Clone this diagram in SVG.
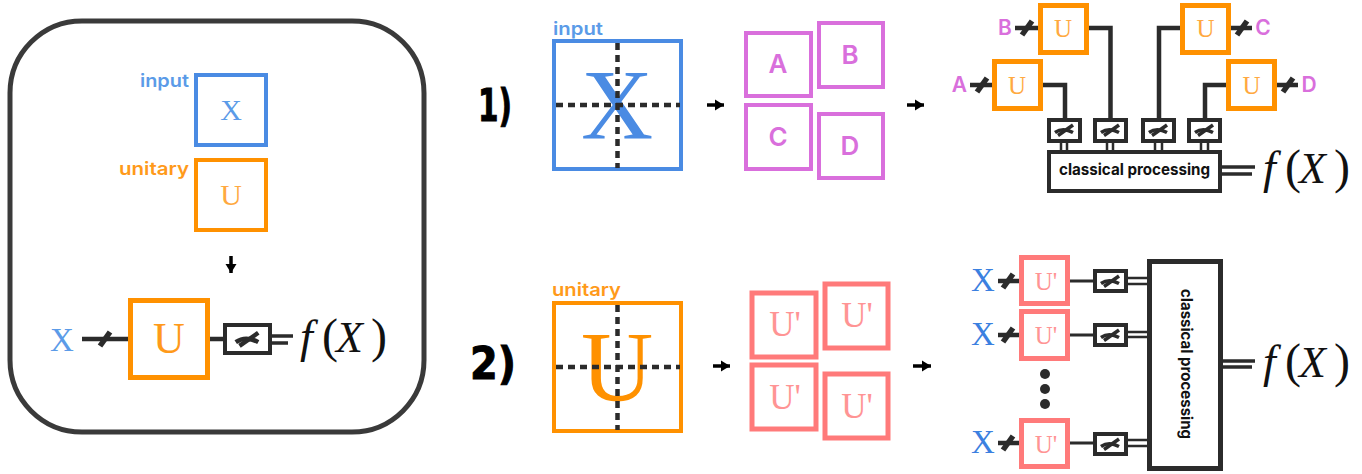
<svg xmlns="http://www.w3.org/2000/svg" width="1362" height="474" viewBox="0 0 1362 474">
<style>
text{font-family:"Liberation Serif","Times New Roman",serif}
.sans{font-family:"Inter","Noto Sans",sans-serif;font-weight:600}
.cp{font-family:"Inter","Noto Sans",sans-serif;font-weight:700;font-size:16px;fill:#111}
.num{font-family:"DejaVu Sans",sans-serif;font-weight:700;font-size:44px;fill:#000;stroke:#000;stroke-width:1}
.box{fill:#fff;stroke-width:4}
.gate{stroke-width:5}
.blue{stroke:#4a8be3}.orange{stroke:#ff9100}.pink{stroke:#d96fdc}.red{stroke:#ff7a7a}
.dark{stroke:#2b2b2b;fill:#fff}
.tb{fill:#5b9be8}.to{fill:#ff9a1a}.tl{fill:#ffa940}.tp{fill:#d96fdc}.tr{fill:#ff9494}.tx{fill:#3b80e0}
.wire{fill:none;stroke:#2b2b2b;stroke-width:4.500}
.thin{fill:none;stroke:#2b2b2b;stroke-width:3}
.dbl{fill:none;stroke:#2b2b2b;stroke-width:2.500}
.out{fill:none;stroke:#2b2b2b;stroke-width:3.500}
.dash{fill:none;stroke:#2b2b2b;stroke-width:4.500;stroke-dasharray:7 5}
.arrow{fill:none;stroke:#000;stroke-width:3.500;marker-end:url(#head)}
.fx{font-size:44px;fill:#111}
.fx .i{font-style:italic}
.fx .f{font-style:italic;font-size:46px}
.fx .p{font-size:48px}
</style>
<defs>
<marker id="head" markerUnits="userSpaceOnUse" markerWidth="12" markerHeight="14" refX="9" refY="5.500" orient="auto" overflow="visible"><path d="M0 0L9 5.500L0 11Z" fill="#000"/></marker>
<g id="meter"><path d="M-9 2.500Q-1-3 9 2.500" fill="none" stroke="#2b2b2b" stroke-width="3.500"/><path d="M-6 5.500L9-5" fill="none" stroke="#2b2b2b" stroke-width="3.500"/></g>
<path id="slash" d="M-5 7L5-7" fill="none" stroke="#2b2b2b" stroke-width="5.500"/>
</defs>

<g id="connectors">
<path class="arrow" d="M231 256V273"/>
<path class="wire" d="M82 339H130M207 339H225"/>
<path class="out" d="M270 336H293M270 343H288"/>
<use href="#slash" x="105" y="339"/>
<path class="arrow" d="M707 105H724"/>
<path class="arrow" d="M907 105H924"/>
<path class="arrow" d="M713 366H730"/>
<path class="arrow" d="M913 366H931"/>
<path class="wire" d="M1015 28H1040M970 85H994M1229 28H1252M1275 85H1298"/>
<use href="#slash" x="1027" y="28"/><use href="#slash" x="982" y="85"/><use href="#slash" x="1242" y="28"/><use href="#slash" x="1288" y="85"/>
<path class="wire" d="M1040 85H1065V120M1086 28H1110.500V120M1182 28H1159V120M1228 85H1205V120"/>
<path class="dbl" d="M1061 141V152M1067 141V152M1107 141V152M1113 141V152M1155 141V152M1162 141V152M1201 141V152M1208 141V152"/>
<path class="out" d="M1220 167H1255M1220 174H1252"/>
<path class="wire" d="M998 281H1021M998 335H1021M998 443H1021"/>
<use href="#slash" x="1008" y="281"/><use href="#slash" x="1008" y="335"/><use href="#slash" x="1008" y="443"/>
<path class="thin" d="M1068 281H1094M1068 335H1094M1068 443H1094"/>
<path class="dbl" d="M1126 278H1149M1126 284H1149M1126 332H1149M1126 337H1149M1126 440H1149M1126 446H1149"/>
<path class="out" d="M1221 361H1255M1221 367H1252"/>
</g>

<g id="panel"><rect x="10" y="21" width="414" height="411" rx="72" fill="none" stroke="#3a3a3a" stroke-width="5"/></g>
<g id="panel-input"><rect class="box blue" x="196" y="75" width="70" height="70"/><text x="231" y="120" font-size="30" text-anchor="middle" class="tb">X</text><text x="189" y="87" text-anchor="end" class="sans tb" font-size="18" textLength="49" lengthAdjust="spacingAndGlyphs">input</text></g>
<g id="panel-unitary"><rect class="box orange" x="196" y="160" width="70" height="70"/><text x="231" y="205" font-size="30" text-anchor="middle" class="tl">U</text><text x="189" y="175" text-anchor="end" class="sans to" font-size="18" textLength="70" lengthAdjust="spacingAndGlyphs">unitary</text></g>
<g id="panel-gate"><rect class="box orange gate" x="130.500" y="300.500" width="77" height="77"/><text x="169" y="353" font-size="44" text-anchor="middle" class="to">U</text></g>
<g id="panel-x"><text x="62" y="351" font-size="33" text-anchor="middle" class="tb">X</text></g>
<g id="panel-meter"><rect class="box dark" x="225" y="325" width="45" height="28"/><use href="#meter" transform="translate(247 339) scale(1.25)"/></g>
<g id="panel-fx"><text class="fx" y="352"><tspan class="f" x="300">f</tspan><tspan class="p" x="322">(</tspan><tspan class="i" x="336">X</tspan><tspan class="p" x="371">)</tspan></text></g>

<g id="label-1"><text class="num" x="478" y="121" textLength="34" lengthAdjust="spacingAndGlyphs">1)</text></g>
<g id="input-large"><rect class="box blue" x="554" y="41" width="127" height="128"/><text x="617" y="138" font-size="100" text-anchor="middle" fill="#4a8be3">X</text><path class="dash" d="M617.500 43V168M556 105H680"/><text x="553" y="35" class="sans tb" font-size="18" textLength="50" lengthAdjust="spacingAndGlyphs">input</text></g>
<g id="part-a"><rect class="box pink" x="746" y="33" width="65" height="63"/><text x="778" y="73" text-anchor="middle" class="sans tp" font-size="26">A</text></g>
<g id="part-b"><rect class="box pink" x="819" y="23" width="64" height="64"/><text x="850" y="64" text-anchor="middle" class="sans tp" font-size="26">B</text></g>
<g id="part-c"><rect class="box pink" x="746" y="105" width="65" height="64"/><text x="778" y="146" text-anchor="middle" class="sans tp" font-size="26">C</text></g>
<g id="part-d"><rect class="box pink" x="819" y="114" width="64" height="64"/><text x="850" y="155" text-anchor="middle" class="sans tp" font-size="26">D</text></g>

<g id="u-b"><rect class="box orange gate" x="1040.500" y="5.500" width="46" height="47"/><text x="1063" y="37" font-size="25" text-anchor="middle" class="tl">U</text><text x="1005" y="35" text-anchor="middle" class="sans tp" font-size="21">B</text></g>
<g id="u-a"><rect class="box orange gate" x="994.500" y="61.500" width="46" height="47"/><text x="1017" y="94" font-size="25" text-anchor="middle" class="tl">U</text><text x="959.500" y="92" text-anchor="middle" class="sans tp" font-size="21">A</text></g>
<g id="u-c"><rect class="box orange gate" x="1182.500" y="5.500" width="46" height="47"/><text x="1205.500" y="37" font-size="25" text-anchor="middle" class="tl">U</text><text x="1263" y="35" text-anchor="middle" class="sans tp" font-size="21">C</text></g>
<g id="u-d"><rect class="box orange gate" x="1228.500" y="61.500" width="46" height="47"/><text x="1251.500" y="94" font-size="25" text-anchor="middle" class="tl">U</text><text x="1309" y="92" text-anchor="middle" class="sans tp" font-size="21">D</text></g>
<g id="m1"><rect class="box dark" x="1049" y="120" width="31" height="21"/><use href="#meter" x="1064" y="130"/></g>
<g id="m2"><rect class="box dark" x="1095" y="120" width="31" height="21"/><use href="#meter" x="1110" y="130"/></g>
<g id="m3"><rect class="box dark" x="1143" y="120" width="31" height="21"/><use href="#meter" x="1158" y="130"/></g>
<g id="m4"><rect class="box dark" x="1189" y="120" width="31" height="21"/><use href="#meter" x="1204" y="130"/></g>
<g id="cp1"><rect class="box dark" x="1049" y="152" width="171" height="39"/><text class="cp" x="1059" y="175" textLength="151" lengthAdjust="spacingAndGlyphs">classical processing</text></g>
<g id="fx1"><text class="fx" y="183"><tspan class="f" x="1263">f</tspan><tspan class="p" x="1285">(</tspan><tspan class="i" x="1299">X</tspan><tspan class="p" x="1334">)</tspan></text></g>

<g id="label-2"><text class="num" x="470" y="379" textLength="46" lengthAdjust="spacingAndGlyphs">2)</text></g>
<g id="unitary-large"><rect class="box orange" x="554" y="303" width="127" height="128"/><text x="617" y="400" font-size="100" text-anchor="middle" fill="#ff9100">U</text><path class="dash" d="M617.500 305V430M556 367H680"/><text x="552" y="296" class="sans to" font-size="18" textLength="69" lengthAdjust="spacingAndGlyphs">unitary</text></g>
<g id="p-tl"><rect class="box red gate" x="752" y="293" width="64" height="64"/><text x="785" y="336" font-size="35" text-anchor="middle" class="tr">U'</text></g>
<g id="p-tr"><rect class="box red gate" x="825" y="284" width="63" height="64"/><text x="857" y="327" font-size="35" text-anchor="middle" class="tr">U'</text></g>
<g id="p-bl"><rect class="box red gate" x="752" y="365" width="64" height="64"/><text x="785" y="409" font-size="35" text-anchor="middle" class="tr">U'</text></g>
<g id="p-br"><rect class="box red gate" x="825" y="374" width="63" height="64"/><text x="857" y="418" font-size="35" text-anchor="middle" class="tr">U'</text></g>

<g id="row1"><text x="983" y="291" font-size="33" text-anchor="middle" class="tx">X</text><rect class="box red gate" x="1021.500" y="257.500" width="46" height="46"/><text x="1046" y="290" font-size="25" text-anchor="middle" class="tr">U'</text></g>
<g id="row2"><text x="983" y="345" font-size="33" text-anchor="middle" class="tx">X</text><rect class="box red gate" x="1021.500" y="311.500" width="46" height="47"/><text x="1046" y="344" font-size="25" text-anchor="middle" class="tr">U'</text></g>
<g id="row3"><text x="983" y="453" font-size="33" text-anchor="middle" class="tx">X</text><rect class="box red gate" x="1021.500" y="420.500" width="46" height="46"/><text x="1046" y="453" font-size="25" text-anchor="middle" class="tr">U'</text></g>
<g id="dots"><circle cx="1045" cy="374" r="5" fill="#2b2b2b"/><circle cx="1045" cy="389" r="5" fill="#2b2b2b"/><circle cx="1045" cy="404" r="5" fill="#2b2b2b"/></g>
<g id="m5"><rect class="box dark" x="1095" y="271" width="31" height="20"/><use href="#meter" x="1110" y="281"/></g>
<g id="m6"><rect class="box dark" x="1095" y="325" width="31" height="20"/><use href="#meter" x="1110" y="335"/></g>
<g id="m7"><rect class="box dark" x="1095" y="434" width="31" height="20"/><use href="#meter" x="1110" y="444"/></g>
<g id="cp2"><rect class="box dark gate" x="1149.500" y="261.500" width="71" height="207"/><text class="cp" transform="translate(1181 289) rotate(90)" textLength="150" lengthAdjust="spacingAndGlyphs">classical processing</text></g>
<g id="fx2"><text class="fx" y="377"><tspan class="f" x="1263">f</tspan><tspan class="p" x="1285">(</tspan><tspan class="i" x="1299">X</tspan><tspan class="p" x="1334">)</tspan></text></g>
</svg>
